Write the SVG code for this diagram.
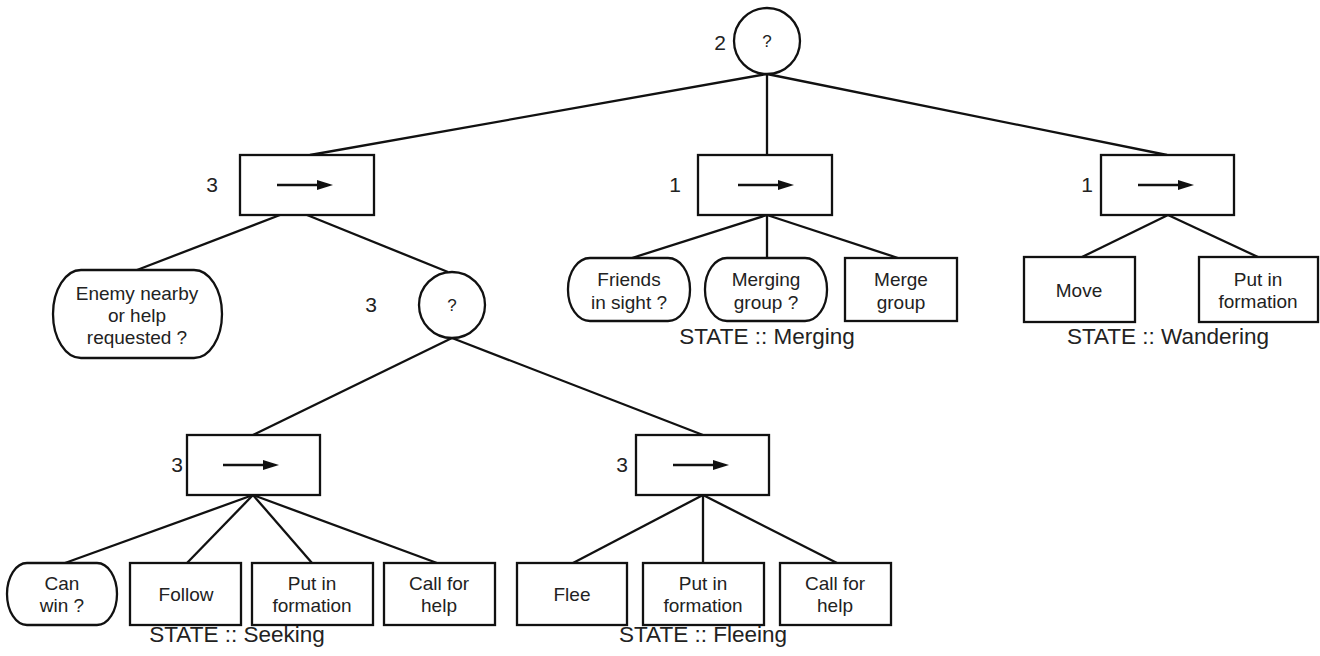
<svg xmlns="http://www.w3.org/2000/svg" width="1320" height="656" viewBox="0 0 1320 656">
<style>
.box{fill:#fff;stroke:#111;stroke-width:2.3}
.t{font-family:"Liberation Sans",Arial,sans-serif;font-size:19px;fill:#222;text-anchor:middle}
.num{font-family:"Liberation Sans",Arial,sans-serif;font-size:21px;fill:#222;text-anchor:middle}
.st{font-family:"Liberation Sans",Arial,sans-serif;font-size:22.5px;fill:#222;text-anchor:middle}
.q{font-family:"Liberation Sans",Arial,sans-serif;font-size:17px;fill:#222;text-anchor:middle}
.edge{stroke:#111;stroke-width:2.3;fill:none}
.arr{stroke:#111;stroke-width:2.3}
</style>
<defs>
<g id="seqArrow"><line x1="0" y1="0" x2="41" y2="0" class="arr"/><path d="M40,-5 L56,0 L40,5 z" fill="#111"/></g>
</defs>
<rect width="1320" height="656" fill="#fff"/>
<g id="connectors">
<line class="edge" x1="767" y1="74" x2="310" y2="155"/>
<line class="edge" x1="767" y1="74" x2="767" y2="155"/>
<line class="edge" x1="767" y1="74" x2="1167" y2="155"/>
<line class="edge" x1="280" y1="215" x2="137" y2="270"/>
<line class="edge" x1="307" y1="215" x2="448" y2="272"/>
<line class="edge" x1="767" y1="215" x2="632" y2="258"/>
<line class="edge" x1="767" y1="215" x2="767" y2="258"/>
<line class="edge" x1="767" y1="215" x2="898" y2="258"/>
<line class="edge" x1="1168" y1="215" x2="1082" y2="257"/>
<line class="edge" x1="1168" y1="215" x2="1258" y2="257"/>
<line class="edge" x1="452" y1="338" x2="253" y2="435"/>
<line class="edge" x1="452" y1="338" x2="703" y2="435"/>
<line class="edge" x1="253" y1="495" x2="65" y2="563"/>
<line class="edge" x1="253" y1="495" x2="187" y2="563"/>
<line class="edge" x1="253" y1="495" x2="312" y2="563"/>
<line class="edge" x1="253" y1="495" x2="437" y2="563"/>
<line class="edge" x1="703" y1="495" x2="573" y2="563"/>
<line class="edge" x1="703" y1="495" x2="703" y2="563"/>
<line class="edge" x1="703" y1="495" x2="837" y2="563"/>
</g>
<g id="root">
<circle class="box" cx="767" cy="41" r="33"/>
<text class="q" x="767" y="47">?</text>
<text class="num" x="720" y="50">2</text>
</g>
<g id="seqSeekFlee">
<rect class="box" x="240" y="155" width="134" height="60"/>
<use href="#seqArrow" x="277" y="185"/>
<text class="num" x="212" y="192">3</text>
</g>
<g id="seqMerging">
<rect class="box" x="698" y="155" width="134" height="60"/>
<use href="#seqArrow" x="738" y="185"/>
<text class="num" x="675" y="192">1</text>
</g>
<g id="seqWandering">
<rect class="box" x="1101" y="155" width="133" height="60"/>
<use href="#seqArrow" x="1138" y="185"/>
<text class="num" x="1087" y="192">1</text>
</g>
<g id="enemyNearby">
<rect class="box" x="53" y="270" width="169" height="88" rx="28" ry="44"/>
<text class="t" x="137" y="300">Enemy nearby</text>
<text class="t" x="137" y="322">or help</text>
<text class="t" x="137" y="344">requested ?</text>
</g>
<g id="selSeekFlee">
<circle class="box" cx="452" cy="305" r="33"/>
<text class="q" x="452" y="311">?</text>
<text class="num" x="371" y="312">3</text>
</g>
<g id="friendsInSight">
<rect class="box" x="568" y="258" width="122" height="63" rx="22" ry="31"/>
<text class="t" x="629" y="286">Friends</text>
<text class="t" x="629" y="309">in sight ?</text>
</g>
<g id="mergingGroup">
<rect class="box" x="705" y="258" width="122" height="63" rx="22" ry="31"/>
<text class="t" x="766" y="286">Merging</text>
<text class="t" x="766" y="309">group ?</text>
</g>
<g id="mergeGroup">
<rect class="box" x="845" y="258" width="112" height="63"/>
<text class="t" x="901" y="286">Merge</text>
<text class="t" x="901" y="309">group</text>
</g>
<text class="st" x="767" y="344">STATE :: Merging</text>
<g id="move">
<rect class="box" x="1024" y="257" width="111" height="65"/>
<text class="t" x="1079" y="297">Move</text>
</g>
<g id="putInFormationW">
<rect class="box" x="1199" y="257" width="119" height="65"/>
<text class="t" x="1258" y="286">Put in</text>
<text class="t" x="1258" y="308">formation</text>
</g>
<text class="st" x="1168" y="344">STATE :: Wandering</text>
<g id="seqSeeking">
<rect class="box" x="187" y="435" width="133" height="60"/>
<use href="#seqArrow" x="223" y="465"/>
<text class="num" x="177" y="472">3</text>
</g>
<g id="seqFleeing">
<rect class="box" x="636" y="435" width="133" height="60"/>
<use href="#seqArrow" x="673" y="465"/>
<text class="num" x="622" y="472">3</text>
</g>
<g id="canWin">
<rect class="box" x="7" y="563" width="110" height="62" rx="20" ry="31"/>
<text class="t" x="62" y="590">Can</text>
<text class="t" x="62" y="612">win ?</text>
</g>
<g id="follow">
<rect class="box" x="130" y="563" width="111" height="62"/>
<text class="t" x="186" y="601">Follow</text>
</g>
<g id="putInFormationS">
<rect class="box" x="252" y="563" width="121" height="62"/>
<text class="t" x="312" y="590">Put in</text>
<text class="t" x="312" y="612">formation</text>
</g>
<g id="callForHelpS">
<rect class="box" x="384" y="563" width="111" height="62"/>
<text class="t" x="439" y="590">Call for</text>
<text class="t" x="439" y="612">help</text>
</g>
<text class="st" x="237" y="642">STATE :: Seeking</text>
<g id="flee">
<rect class="box" x="517" y="563" width="110" height="62"/>
<text class="t" x="572" y="601">Flee</text>
</g>
<g id="putInFormationF">
<rect class="box" x="643" y="563" width="121" height="62"/>
<text class="t" x="703" y="590">Put in</text>
<text class="t" x="703" y="612">formation</text>
</g>
<g id="callForHelpF">
<rect class="box" x="780" y="563" width="111" height="62"/>
<text class="t" x="835" y="590">Call for</text>
<text class="t" x="835" y="612">help</text>
</g>
<text class="st" x="703" y="642">STATE :: Fleeing</text>
</svg>
